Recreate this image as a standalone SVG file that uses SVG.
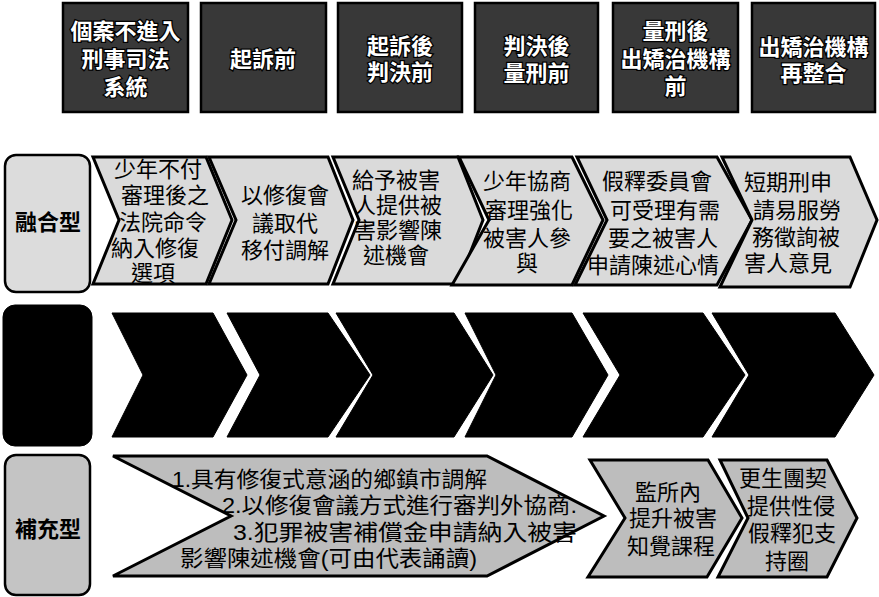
<svg xmlns="http://www.w3.org/2000/svg" width="879" height="597" viewBox="0 0 879 597">
<style>
text{font-family:"Liberation Sans","Noto Sans CJK TC","Noto Sans CJK SC",sans-serif;font-size:22px;text-anchor:middle}
.hdr rect{fill:#383838;stroke:#000;stroke-width:2.5}
.hdr text{fill:#fff;stroke:#000;stroke-width:2.5;paint-order:stroke;font-weight:bold}
.r1 path{fill:#dadada;stroke:#000;stroke-width:3;stroke-linejoin:miter}
.r1 text,.r3 text{fill:#000}
.r2 path,.r2 rect{fill:#000;stroke:#000;stroke-width:1}
.r3 path{fill:#bdbdbd;stroke:#000;stroke-width:3;stroke-linejoin:miter}
.lab rect{stroke:#000;stroke-width:2.5}
.lab text{font-weight:bold;fill:#000}
.st{text-anchor:start}
</style>
<rect width="879" height="597" fill="#fff"/>

<g id="header" class="hdr">
  <g id="h1"><rect x="63" y="3" width="125" height="109"/>
    <text><tspan x="125.5" y="39">個案不進入</tspan><tspan x="125.5" y="67">刑事司法</tspan><tspan x="125.5" y="95">系統</tspan></text></g>
  <g id="h2"><rect x="201" y="3" width="125" height="109"/>
    <text x="263" y="67">起訴前</text></g>
  <g id="h3"><rect x="338" y="3" width="124" height="109"/>
    <text><tspan x="400" y="54">起訴後</tspan><tspan x="400" y="80">判決前</tspan></text></g>
  <g id="h4"><rect x="475" y="3" width="123" height="109"/>
    <text><tspan x="536.5" y="54">判決後</tspan><tspan x="536.5" y="81">量刑前</tspan></text></g>
  <g id="h5"><rect x="613" y="3" width="125" height="109"/>
    <text><tspan x="675.5" y="39">量刑後</tspan><tspan x="675.5" y="67">出矯治機構</tspan><tspan x="675.5" y="94">前</tspan></text></g>
  <g id="h6"><rect x="752" y="3" width="123" height="109"/>
    <text><tspan x="813.5" y="55">出矯治機構</tspan><tspan x="813.5" y="81">再整合</tspan></text></g>
</g>

<g id="row1" class="r1">
  <g id="lab1" class="lab"><rect x="5" y="155" width="85" height="137" rx="11" fill="#dcdcdc"/>
    <text x="48" y="230">融合型</text></g>
  <g id="c11"><path d="M93,157 L206,157 L232,220 L206,284 L93,284 L119,220 Z"/>
    <text><tspan x="158" y="177">少年不付</tspan><tspan x="165" y="203">審理後之</tspan><tspan x="163" y="230">法院命令</tspan><tspan x="155" y="256">納入修復</tspan><tspan x="153" y="281">選項</tspan></text></g>
  <g id="c12"><path d="M209,157 L328,157 L353,220 L328,284 L209,284 L236,220 Z"/>
    <text><tspan x="285" y="203">以修復會</tspan><tspan x="285" y="231">議取代</tspan><tspan x="285" y="258">移付調解</tspan></text></g>
  <g id="c13"><path d="M333,157 L458,157 L483,220 L458,284 L333,284 L359,220 Z"/>
    <text><tspan x="396" y="188">給予被害</tspan><tspan x="398" y="213">人提供被</tspan><tspan x="398" y="238">害影響陳</tspan><tspan x="396" y="263">述機會</tspan></text></g>
  <g id="c14"><path d="M459,157 L572,157 L603,220 L572,285 L452,285 L489,220 Z"/>
    <text><tspan x="527" y="189">少年協商</tspan><tspan x="529" y="218">審理強化</tspan><tspan x="527" y="246">被害人參</tspan><tspan x="527" y="271">與</tspan></text></g>
  <g id="c15"><path d="M577,157 L717,157 L752,220 L717,285 L575,285 L607,220 Z"/>
    <text><tspan x="657" y="189">假釋委員會</tspan><tspan x="665" y="218">可受理有需</tspan><tspan x="663" y="246">要之被害人</tspan><tspan x="653" y="273">申請陳述心情</tspan></text></g>
  <g id="c16"><path d="M722,157 L850,157 L877,220 L850,287 L720,287 L752,220 Z"/>
    <text><tspan x="788" y="190">短期刑申</tspan><tspan x="797" y="218">請易服勞</tspan><tspan x="796" y="245">務徵詢被</tspan><tspan x="788" y="271">害人意見</tspan></text></g>
</g>

<g id="row2" class="r2">
  <g id="lab2"><rect x="3" y="305" width="89" height="141" rx="12"/></g>
  <g id="c21"><path d="M112,313 L213,313 L247,375 L213,437 L112,437 L143,375 Z"/></g>
  <g id="c22"><path d="M227,313 L328,313 L370,375 L328,437 L227,437 L260,375 Z"/></g>
  <g id="c23"><path d="M336,313 L454,313 L493,375 L454,437 L336,437 L373,375 Z"/></g>
  <g id="c24"><path d="M465,313 L572,313 L608,375 L572,437 L465,437 L496,375 Z"/></g>
  <g id="c25"><path d="M583,313 L703,313 L745,375 L703,437 L583,437 L620,375 Z"/></g>
  <g id="c26"><path d="M712,313 L835,313 L874,375 L835,437 L712,437 L749,375 Z"/></g>
</g>

<g id="row3" class="r3">
  <g id="lab3" class="lab"><rect x="5" y="455" width="85" height="140" rx="11" fill="#c4c4c4"/>
    <text x="48" y="537">補充型</text></g>
  <g id="c31"><path d="M113,456 L487,456 L604,516 L487,576 L113,576 L231,516 Z"/>
    <text class="st"><tspan x="172" y="487" textLength="315" lengthAdjust="spacingAndGlyphs">1.具有修復式意涵的鄉鎮市調解</tspan><tspan x="222" y="513" textLength="355" lengthAdjust="spacingAndGlyphs">2.以修復會議方式進行審判外協商.</tspan><tspan x="233" y="540" textLength="344" lengthAdjust="spacingAndGlyphs">3.犯罪被害補償金申請納入被害</tspan><tspan x="180" y="566" textLength="297" lengthAdjust="spacingAndGlyphs">影響陳述機會(可由代表誦讀)</tspan></text></g>
  <g id="c32"><path d="M590,460 L708,460 L742,518 L707,577 L588,577 L625,518 Z"/>
    <text><tspan x="668" y="500">監所內</tspan><tspan x="673" y="526">提升被害</tspan><tspan x="671" y="554">知覺課程</tspan></text></g>
  <g id="c33"><path d="M720,460 L827,460 L857,518 L827,577 L718,577 L748,518 Z"/>
    <text><tspan x="783" y="486">更生團契</tspan><tspan x="791" y="514">提供性侵</tspan><tspan x="792" y="541">假釋犯支</tspan><tspan x="787" y="569">持圈</tspan></text></g>
</g>

<g id="connectors"></g>
</svg>
